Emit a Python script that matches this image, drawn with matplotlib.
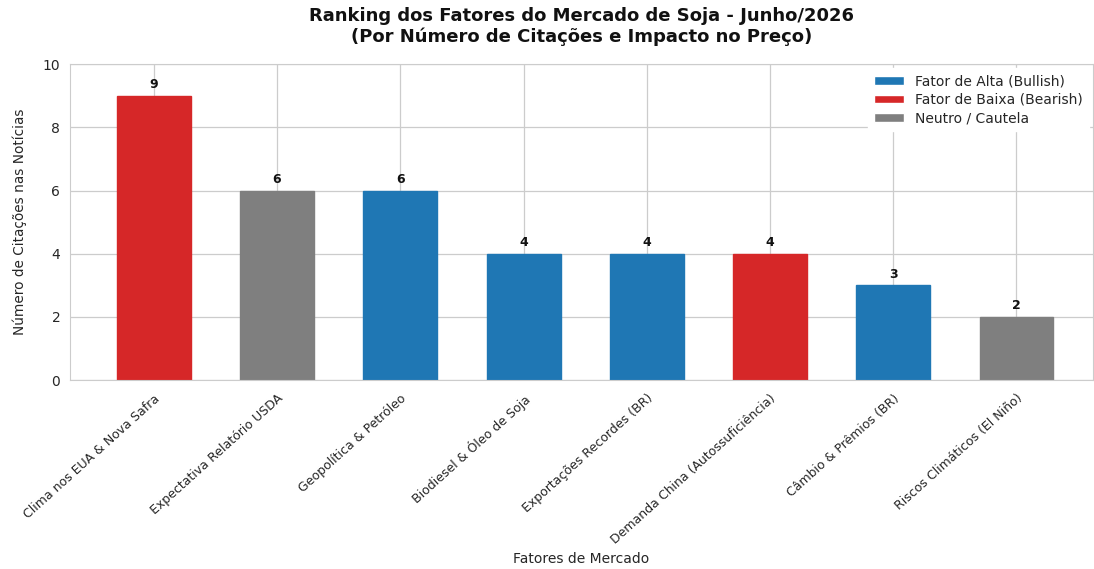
import matplotlib
matplotlib.use("Agg")
import matplotlib.pyplot as plt
import seaborn as sns
from matplotlib.patches import Patch

sns.set_style("whitegrid")
plt.rcParams['font.family'] = ['DejaVu Sans']

categories = ["Clima nos EUA & Nova Safra", "Expectativa Relatório USDA", "Geopolítica & Petróleo",
              "Biodiesel & Óleo de Soja", "Exportações Recordes (BR)", "Demanda China (Autossuficiência)",
              "Câmbio & Prêmios (BR)", "Riscos Climáticos (El Niño)"]
citations = [9, 6, 6, 4, 4, 4, 3, 2]
impact = ["Baixa", "Neutro", "Alta", "Alta", "Alta", "Baixa", "Alta", "Neutro"]

color_map = {"Alta": "#1f77b4", "Baixa": "#d62728", "Neutro": "#7f7f7f"}
legend_labels = {"Alta": "Fator de Alta (Bullish)", "Baixa": "Fator de Baixa (Bearish)",
                 "Neutro": "Neutro / Cautela"}

fig = plt.figure(figsize=(10.94, 5.69), dpi=100)
ax = fig.add_axes([0.064, 0.332, 0.935, 0.555])

x = list(range(len(categories)))
colors = [color_map[i] for i in impact]
ax.bar(x, citations, width=0.6, color=colors, edgecolor=colors, linewidth=1, zorder=2)

for xi, v in zip(x, citations):
    ax.text(xi, v + 0.15, str(v), ha='center', va='bottom', fontsize=9, fontweight='bold', color='#111111')

ax.set_xlim(-0.68, 7.62)
ax.set_ylim(0, 10)
ax.set_yticks([0, 2, 4, 6, 8, 10])
ax.set_xticks(x)
ax.set_xticklabels(categories, rotation=42, ha='right', fontsize=9, rotation_mode='anchor')
ax.tick_params(axis='y', labelsize=10)
ax.tick_params(axis='x', pad=5)
ax.set_ylabel("Número de Citações nas Notícias", fontsize=9.8, labelpad=11)
ax.set_xlabel("Fatores de Mercado", fontsize=10, labelpad=4)
ax.set_title("Ranking dos Fatores do Mercado de Soja - Junho/2026\n(Por Número de Citações e Impacto no Preço)",
             fontsize=13, fontweight='bold', pad=16, color='#111111')

ax.grid(True, color='#cccccc', linewidth=0.9)
for s in ax.spines.values():
    s.set_color('#cccccc')

handles = [Patch(facecolor=color_map[k], label=legend_labels[k]) for k in ["Alta", "Baixa", "Neutro"]]
ax.legend(handles=handles, loc='upper right', fontsize=10, frameon=True, facecolor='white',
          edgecolor='white', framealpha=1, handlelength=2.2, handleheight=0.6,
          labelspacing=0.35, borderaxespad=0.3)

fig.savefig("out.png", dpi=100)
